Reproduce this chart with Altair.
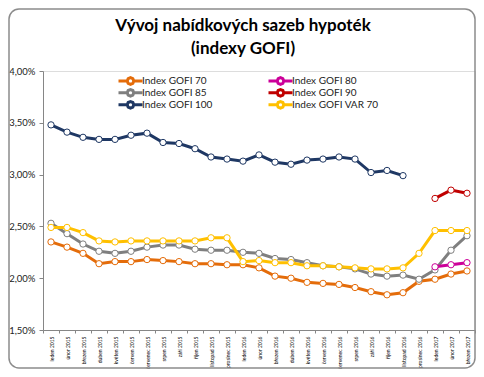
import altair as alt
import pandas as pd

x_labels = [
    "leden 2015", "únor 2015", "březen 2015", "duben 2015", "květen 2015", "červen 2015",
    "červenec 2015", "srpen 2015", "září 2015", "říjen 2015", "listopad 2015", "prosinec 2015",
    "leden 2016", "únor 2016", "březen 2016", "duben 2016", "květen 2016", "červen 2016",
    "červenec 2016", "srpen 2016", "září 2016", "říjen 2016", "listopad 2016", "prosinec 2016",
    "leden 2017", "únor 2017", "březen 2017",
]

# legend order (column-major): 70, 85, 100 | 80, 90, VAR 70
series_names = ["Index GOFI 70", "Index GOFI 85", "Index GOFI 100",
                "Index GOFI 80", "Index GOFI 90", "Index GOFI VAR 70"]
series_colors = ["#E46C0A", "#7F7F7F", "#1F3864", "#CC0099", "#C00000", "#FFC000"]

gofi70 = [2.35, 2.30, 2.24, 2.14, 2.16, 2.16, 2.18, 2.17, 2.16, 2.14, 2.14, 2.13, 2.13,
          2.10, 2.02, 2.00, 1.96, 1.95, 1.94, 1.91, 1.87, 1.84, 1.86, 1.97, 1.99, 2.04, 2.07]
gofi85 = [2.53, 2.43, 2.33, 2.26, 2.24, 2.26, 2.30, 2.32, 2.32, 2.28, 2.27, 2.27, 2.25,
          2.24, 2.19, 2.18, 2.15, 2.12, 2.11, 2.09, 2.04, 2.02, 2.03, 1.99, 2.08, 2.27, 2.41]
gofi100 = [3.48, 3.41, 3.36, 3.34, 3.34, 3.38, 3.40, 3.31, 3.30, 3.25, 3.17, 3.15, 3.13,
           3.19, 3.12, 3.10, 3.14, 3.15, 3.17, 3.15, 3.02, 3.04, 2.99] + [None] * 4
gofi80 = [None] * 24 + [2.11, 2.13, 2.15]
gofi90 = [None] * 24 + [2.77, 2.85, 2.82]
var70 = [2.49, 2.49, 2.44, 2.36, 2.35, 2.36, 2.36, 2.36, 2.36, 2.36, 2.39, 2.39, 2.16,
         2.17, 2.15, 2.15, 2.12, 2.12, 2.11, 2.10, 2.09, 2.09, 2.10, 2.24, 2.46, 2.46, 2.46]

y_ticks = [1.5, 2.0, 2.5, 3.0, 3.5, 4.0]

all_series = [gofi70, gofi85, gofi100, gofi80, gofi90, var70]
rows = []
for name, vals in zip(series_names, all_series):
    for lab, v in zip(x_labels, vals):
        if v is not None:
            rows.append({"mesic": lab, "sazba": v, "index": name})
df = pd.DataFrame(rows)

FONT = "Lato"
# line with an (octagon-approximated) open circle in the middle
sym_path = ("M-2,0H-0.55M0.55,0H2"
            "M-0.55,0L-0.39,-0.39L0,-0.55L0.39,-0.39L0.55,0"
            "L0.39,0.39L0,0.55L-0.39,0.39Z")

x_enc = alt.X("mesic:N", sort=x_labels, bandPosition=0.5,
              scale=alt.Scale(type="band", paddingInner=0, paddingOuter=0),
              axis=alt.Axis(title=None, labelAngle=-90, labelFontSize=5, labelColor="#000000",
                            tickBand="extent", tickSize=3, tickColor="#868686",
                            domainColor="#868686", labelPadding=3, labelFont=FONT))
y_enc = alt.Y("sazba:Q", scale=alt.Scale(domain=[1.5, 4.0], nice=False, zero=False),
              axis=alt.Axis(title=None, values=y_ticks, grid=False, tickSize=4,
                            tickColor="#868686", domainColor="#868686",
                            labelFontSize=9.5, labelColor="#222222", labelFont=FONT,
                            labelPadding=4,
                            labelExpr="replace(format(datum.value, '.2f'), '.', ',') + '%'"))
color_enc = alt.Color("index:N", sort=series_names,
                      scale=alt.Scale(domain=series_names, range=series_colors),
                      legend=alt.Legend(title=None, orient="none", legendX=74, legendY=4,
                                        columns=2, columnPadding=54, gridAlign="each",
                                        symbolType=sym_path, symbolSize=144,
                                        symbolStrokeWidth=3, symbolFillColor="white",
                                        symbolOffset=6, labelOffset=4, clipHeight=11.7,
                                        labelFont=FONT, labelFontSize=10,
                                        labelColor="#222222", rowPadding=0))

base = alt.Chart(df).encode(x=x_enc, y=y_enc, color=color_enc, detail="index:N")

lines = base.mark_line(strokeWidth=3)
points = base.mark_point(filled=False, fill="white", fillOpacity=1, size=40,
                         strokeWidth=1, opacity=1)

frame = alt.Chart(pd.DataFrame({"f": [0]})).mark_rect(
    fill=None, stroke="#8C8C8C", strokeWidth=1.5, cornerRadius=10
).encode(x=alt.value(-34), x2=alt.value(432), y=alt.value(-62), y2=alt.value(297))

chart = alt.layer(frame, lines, points).properties(
    width=432, height=259,
    autosize=alt.AutoSizeParams(type="none"),
    padding={"left": 35, "top": 63, "right": 1, "bottom": 39},
    title=alt.TitleParams(
        text=["Vývoj nabídkových sazeb hypoték", "(indexy GOFI)"],
        font=FONT, fontSize=17, fontWeight="bold", color="#000000",
        anchor="middle", frame="group", dx=-16, dy=62, offset=12, lineHeight=23,
    ),
).configure_view(stroke=None).configure(background="white")

chart.save("out.html", embed_options={"renderer": "svg", "actions": False})
